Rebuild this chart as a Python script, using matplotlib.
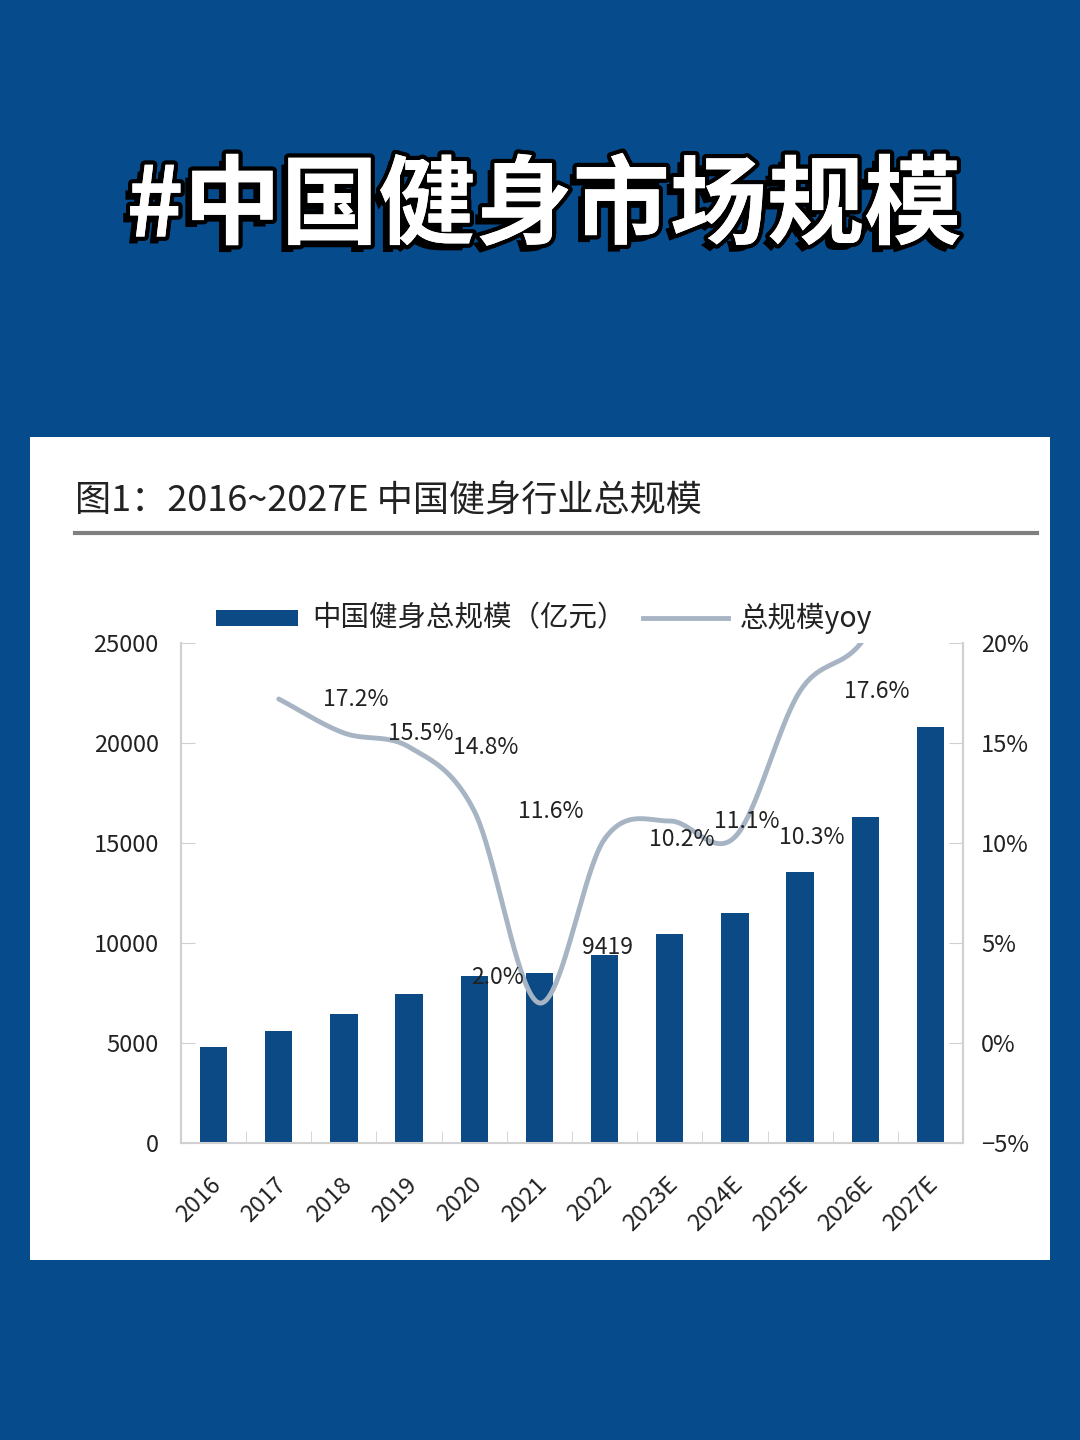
import matplotlib
matplotlib.use("Agg")
import matplotlib.pyplot as plt
import matplotlib.patheffects as pe
import matplotlib.transforms as mtransforms
from matplotlib.patches import Rectangle
import numpy as np

plt.rcParams['font.family'] = ['Noto Sans CJK SC', 'DejaVu Sans']

# ---------------- data ----------------
years = ["2016", "2017", "2018", "2019", "2020", "2021", "2022",
         "2023E", "2024E", "2025E", "2026E", "2027E"]
market_size = [4800, 5600, 6470, 7450, 8350, 8500, 9419,
               10450, 11500, 13550, 16300, 20800]
yoy_years = ["2017", "2018", "2019", "2020", "2021", "2022",
             "2023E", "2024E", "2025E", "2026E", "2027E"]
yoy = [17.2, 15.5, 14.8, 11.6, 2.0, 10.2, 11.1, 10.3, 17.6, 20.3, 27.6]
yoy_labels = ["17.2%", "15.5%", "14.8%", "11.6%", "2.0%", "10.2%",
              "11.1%", "10.3%", "17.6%"]
left_ticks = [0, 5000, 10000, 15000, 20000, 25000]
right_ticks = [-5, 0, 5, 10, 15, 20]

page_title = "#中国健身市场规模"
fig_title = "图1：2016~2027E 中国健身行业总规模"
bar_name = "中国健身总规模（亿元）"
line_name = "总规模yoy"

BG = "#064b8b"
BAR = "#0b4a85"
LINE = "#a7b4c4"
W, H = 1080, 1440

fig = plt.figure(figsize=(W / 100, H / 100), dpi=100)
fig.patch.set_facecolor(BG)

def fx(px):
    return px / W

def fy(py):
    return 1 - py / H

# white panel
fig.patches.append(Rectangle((fx(30), fy(1260)), fx(1050) - fx(30), fy(437) - fy(1260),
                             transform=fig.transFigure, facecolor="white",
                             edgecolor="none", zorder=-5))

# big page title
fig.text(fx(544), fy(208), page_title, ha="center", va="center", fontsize=70,
         fontweight="bold", color="white",
         path_effects=[pe.withStroke(linewidth=6, foreground="black"),
                       pe.SimplePatchShadow(offset=(-5, -5), shadow_rgbFace="black", alpha=1),
                       pe.withStroke(linewidth=6, foreground="black"),
                       pe.Normal()])

# figure caption and rule
fig.text(fx(75), fy(502), fig_title, ha="left", va="center", fontsize=26,
         color="#222222", fontweight="medium")
fig.add_artist(plt.Line2D([fx(75), fx(1037)], [fy(533), fy(533)],
                          transform=fig.transFigure, color="#7f7f7f", lw=3))

# ---------------- chart ----------------
ax = fig.add_axes([fx(181), fy(1143), fx(963) - fx(181), fy(643) - fy(1143)])
ax.set_zorder(2)
ax.patch.set_visible(False)
x = np.arange(len(years))
ax.bar(x, market_size, width=0.42, color=BAR, zorder=2)
ax.set_xlim(-0.5, len(years) - 0.5)
ax.set_ylim(0, 25000)
ax.set_yticks(left_ticks)
ax.set_yticklabels([str(v) for v in left_ticks], fontsize=17, color="#222222")
ax.set_xticks(x)
ax.set_xticklabels([])
lab_tr = mtransforms.offset_copy(ax.get_xaxis_transform(), fig=fig, x=-4, y=-30,
                                 units="dots")
for i, yr in enumerate(years):
    ax.text(i, 0, yr, transform=lab_tr, rotation=45, ha="right", va="top",
            rotation_mode="anchor", fontsize=17, color="#222222")
ax.set_xticks(np.arange(-0.5, len(years), 1), minor=True)
ax.tick_params(axis="x", which="major", length=0)
ax.tick_params(axis="x", which="minor", direction="in", length=9, color="#d0d0d0")
ax.tick_params(axis="y", direction="in", length=10, color="#d0d0d0", pad=16)
for s in ["top", "right"]:
    ax.spines[s].set_visible(False)
for s in ["left", "bottom"]:
    ax.spines[s].set_color("#d0d0d0")
    ax.spines[s].set_linewidth(1.5)

ax2 = ax.twinx()
ax2.set_zorder(3)
ax2.patch.set_visible(False)
ax2.set_ylim(-5, 20)
ax2.set_yticks(right_ticks)
ax2.set_yticklabels([f"{v}%".replace("-", "−") for v in right_ticks], fontsize=17,
                    color="#222222")
ax2.tick_params(axis="y", direction="in", length=10, color="#d0d0d0", pad=13)
for s in ["top", "left", "bottom"]:
    ax2.spines[s].set_visible(False)
ax2.spines["right"].set_color("#d0d0d0")
ax2.spines["right"].set_linewidth(1.5)

# smooth line (Catmull-Rom)
xi = np.array([years.index(y) for y in yoy_years], dtype=float)
yi = np.array(yoy, dtype=float)
px = np.concatenate([[2 * xi[0] - xi[1]], xi, [2 * xi[-1] - xi[-2]]])
py = np.concatenate([[2 * yi[0] - yi[1]], yi, [2 * yi[-1] - yi[-2]]])
sx, sy = [], []
t = np.linspace(0, 1, 40)
for i in range(1, len(px) - 2):
    p0, p1, p2, p3 = px[i - 1], px[i], px[i + 1], px[i + 2]
    q0, q1, q2, q3 = py[i - 1], py[i], py[i + 1], py[i + 2]
    cx = 0.5 * ((2 * p1) + (-p0 + p2) * t + (2 * p0 - 5 * p1 + 4 * p2 - p3) * t**2
                + (-p0 + 3 * p1 - 3 * p2 + p3) * t**3)
    cy = 0.5 * ((2 * q1) + (-q0 + q2) * t + (2 * q0 - 5 * q1 + 4 * q2 - q3) * t**2
                + (-q0 + 3 * q1 - 3 * q2 + q3) * t**3)
    sx.extend(cx)
    sy.extend(cy)
ax2.plot(sx, sy, color=LINE, lw=3.5, zorder=3, solid_capstyle="round")

# data labels (offset as in the reference)
for i, lab in enumerate(yoy_labels):
    val = yoy[i]
    if lab == "2.0%":
        lx, ly = xi[i] - 0.64, val + 1.3
    else:
        lx, ly = xi[i] + 1.18, val
    ax2.text(lx, ly, lab, ha="center", va="center", fontsize=16.5, color="#222222",
             zorder=4)
i22 = years.index("2022")
ax.text(i22 + 0.05, market_size[i22] + 380, f"{market_size[i22]}", ha="center",
        va="center", fontsize=16.5, color="#222222", zorder=4)

# legend (manual, figure coordinates)
fig.patches.append(Rectangle((fx(216), fy(626)), fx(298) - fx(216), fy(610) - fy(626),
                             transform=fig.transFigure, facecolor=BAR,
                             edgecolor="none"))
fig.text(fx(312), fy(618), bar_name, ha="left", va="center", fontsize=20.5,
         color="#222222")
fig.add_artist(plt.Line2D([fx(643), fx(728)], [fy(618), fy(618)],
                          transform=fig.transFigure, color=LINE, lw=3.5))
fig.text(fx(740), fy(618), line_name, ha="left", va="center", fontsize=20.5,
         color="#222222")

fig.savefig("out.png", dpi=100, facecolor=BG)
